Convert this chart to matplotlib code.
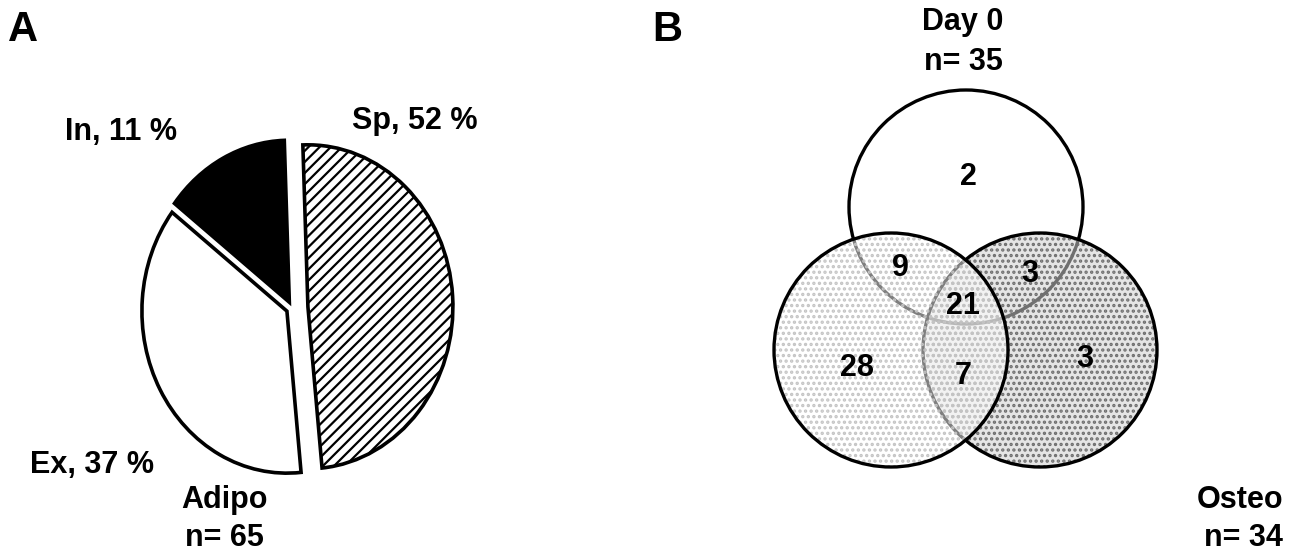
import matplotlib
matplotlib.use('Agg')
import matplotlib.pyplot as plt
from matplotlib.patches import Circle

plt.rcParams['font.family'] = ['Liberation Sans', 'DejaVu Sans']
plt.rcParams['font.weight'] = 'bold'
plt.rcParams['hatch.linewidth'] = 1.6

# --- datos ---
# panel A: torta
sectores = ['Sp', 'Ex', 'In']
porcentajes = [52, 37, 11]          # lo que dicen las etiquetas
tamanio_dibujado = [49, 37, 14]     # lo que se ve en el dibujo

# panel B: Venn
conjuntos = ['Day 0', 'Adipo', 'Osteo']
n_conjuntos = [35, 65, 34]
solo = {'Day 0': 2, 'Adipo': 28, 'Osteo': 3}
dos = {'Day 0&Adipo': 9, 'Day 0&Osteo': 3, 'Adipo&Osteo': 7}
los_tres = 21

W, H = 1298, 556
fig = plt.figure(figsize=(W / 100, H / 100), dpi=100)

# ejes en pixeles para todo el texto y el venn
ax = fig.add_axes([0, 0, 1, 1])
ax.set_xlim(0, W)
ax.set_ylim(0, H)
ax.axis('off')


def py(y):
    # paso de coordenada de imagen (desde arriba) a la del eje
    return H - y


#%% Panel A
rx, ry = 145, 162
cx, cy = 292, 308
axp = fig.add_axes([(cx - 1.5 * rx) / W, (py(cy) - 1.5 * ry) / H, 3 * rx / W, 3 * ry / H])
wedges, _ = axp.pie(tamanio_dibujado, startangle=92, counterclock=False,
                    explode=[0.11, 0.04, 0.04], frame=True,
                    colors=['white', 'white', 'black'],
                    wedgeprops=dict(edgecolor='black', linewidth=2.6))
wedges[0].set_hatch('///')
axp.set_aspect('auto')
axp.set_xlim(-1.5, 1.5)
axp.set_ylim(-1.5, 1.5)
axp.axis('off')

fs = 22
ax.text(415, py(121), '{}, {} %'.format(sectores[0], porcentajes[0]), ha='center', va='center', fontsize=fs)
ax.text(121, py(132), '{}, {} %'.format(sectores[2], porcentajes[2]), ha='center', va='center', fontsize=fs)
ax.text(92, py(465), '{}, {} %'.format(sectores[1], porcentajes[1]), ha='center', va='center', fontsize=fs)

ax.text(8, py(30), 'A', ha='left', va='center', fontsize=30)
ax.text(652, py(30), 'B', ha='left', va='center', fontsize=30)

#%% Panel B
r = 117
centros = {'Day 0': (966, py(207)), 'Adipo': (891, py(350)), 'Osteo': (1040, py(350))}
lw = 2.4

# Day 0 sin relleno
ax.add_patch(Circle(centros['Day 0'], r, facecolor='none', edgecolor='black', linewidth=lw))

# Osteo: punteado denso gris
ax.add_patch(Circle(centros['Osteo'], r, facecolor='#d0d0d0', alpha=0.55, linewidth=0))
ax.add_patch(Circle(centros['Osteo'], r, facecolor='none', edgecolor='#6e6e6e', hatch='...', linewidth=0))
ax.add_patch(Circle(centros['Osteo'], r, facecolor='none', edgecolor='black', linewidth=lw))

# Adipo: punteado ralo claro
ax.add_patch(Circle(centros['Adipo'], r, facecolor='white', alpha=0.5, linewidth=0))
ax.add_patch(Circle(centros['Adipo'], r, facecolor='none', edgecolor='#c4c4c4', hatch='...', linewidth=0))
ax.add_patch(Circle(centros['Adipo'], r, facecolor='none', edgecolor='black', linewidth=lw))

fsn = 22
ax.text(968, py(177), str(solo['Day 0']), ha='center', va='center', fontsize=fsn)
ax.text(900, py(268), str(dos['Day 0&Adipo']), ha='center', va='center', fontsize=fsn)
ax.text(1030, py(274), str(dos['Day 0&Osteo']), ha='center', va='center', fontsize=fsn)
ax.text(963, py(306), str(los_tres), ha='center', va='center', fontsize=fsn)
ax.text(857, py(368), str(solo['Adipo']), ha='center', va='center', fontsize=fsn)
ax.text(963, py(376), str(dos['Adipo&Osteo']), ha='center', va='center', fontsize=fsn)
ax.text(1085, py(359), str(solo['Osteo']), ha='center', va='center', fontsize=fsn)

ax.text(963, py(22), conjuntos[0], ha='center', va='center', fontsize=fsn)
ax.text(963, py(62), 'n= {}'.format(n_conjuntos[0]), ha='center', va='center', fontsize=fsn)
ax.text(224, py(500), conjuntos[1], ha='center', va='center', fontsize=fsn)
ax.text(224, py(538), 'n= {}'.format(n_conjuntos[1]), ha='center', va='center', fontsize=fsn)
ax.text(1240, py(500), conjuntos[2], ha='center', va='center', fontsize=fsn)
ax.text(1243, py(538), 'n= {}'.format(n_conjuntos[2]), ha='center', va='center', fontsize=fsn)

fig.savefig('out.png', dpi=100)
